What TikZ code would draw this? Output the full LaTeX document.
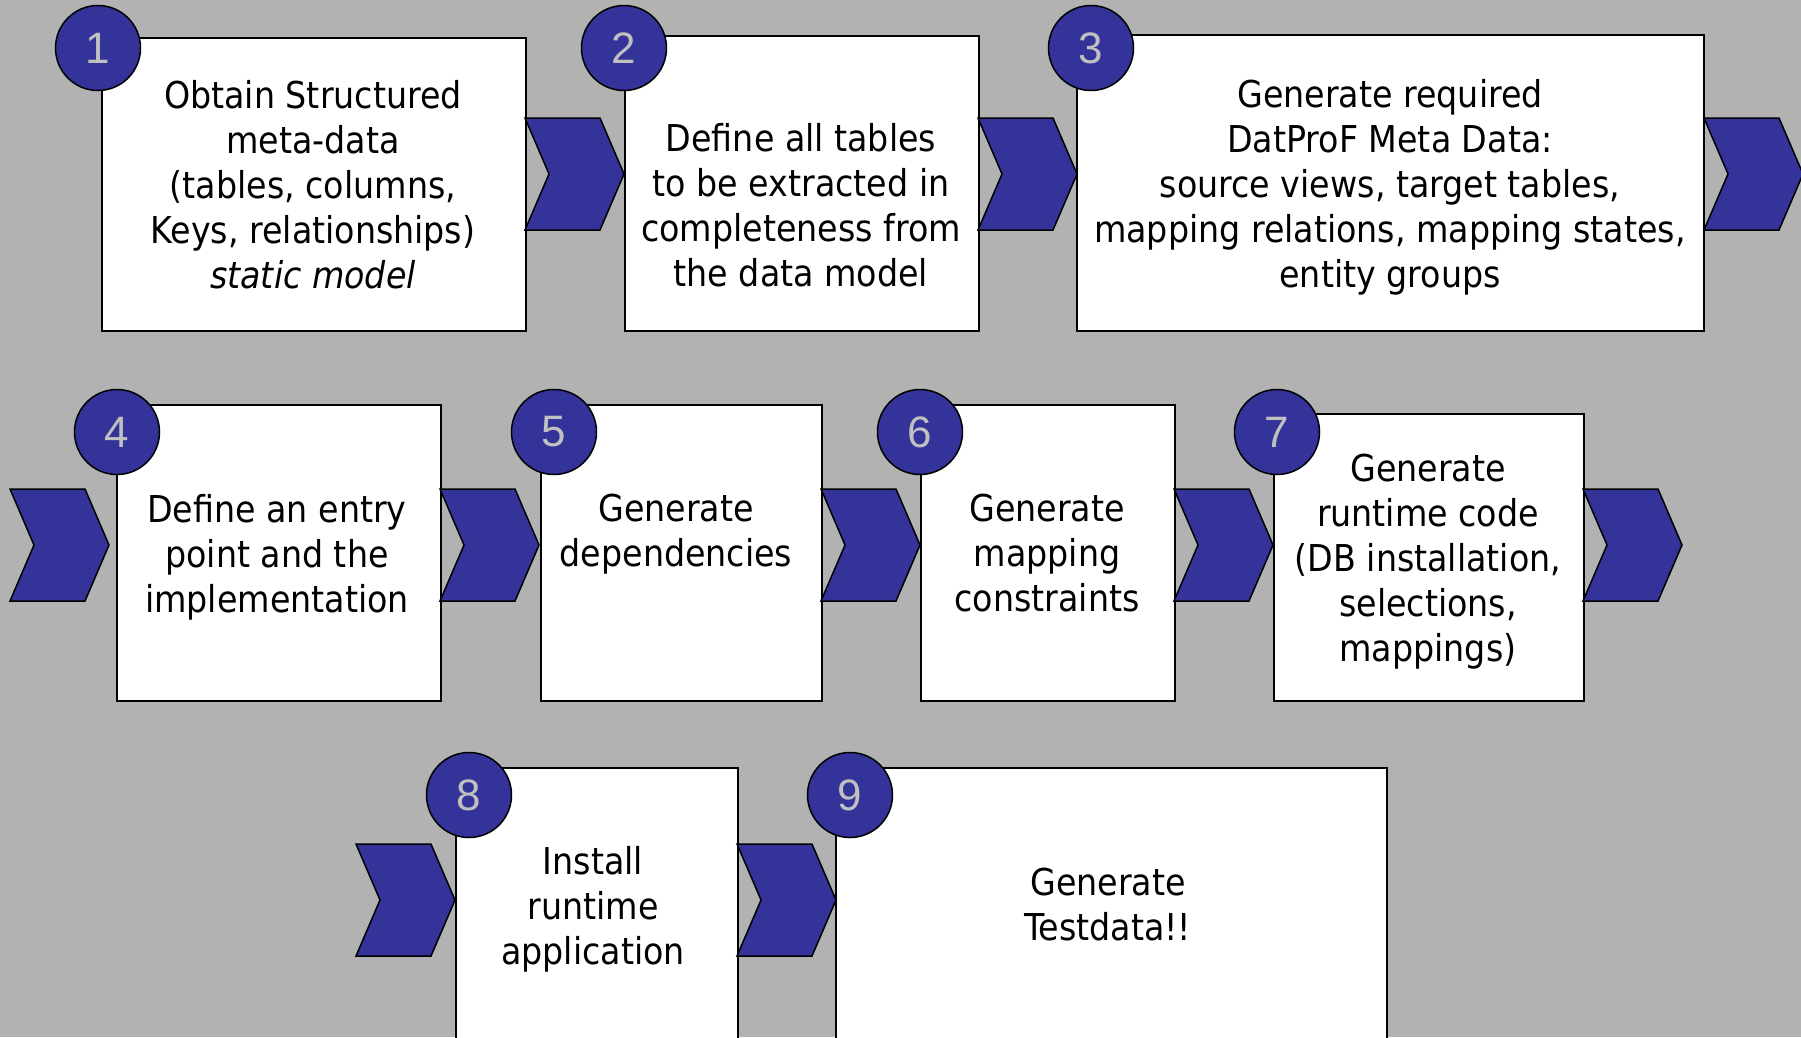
\documentclass[tikz,border=0pt]{standalone}
\usepackage{fontspec}
\setmainfont{DejaVu Sans Condensed}
\newfontfamily\numfont{Liberation Sans}
\definecolor{bg}{HTML}{B2B2B2}
\definecolor{navy}{HTML}{333399}
\definecolor{numgray}{HTML}{C0C0C0}
\tikzset{
 box/.style={draw=black, line width=2pt, fill=white, rectangle, inner sep=0pt, anchor=north west},
 txt/.style={align=center, font=\fontsize{37}{45}\selectfont, inner sep=0pt},
 numc/.style={circle, draw=black, line width=1.5pt, fill=navy, minimum size=85pt, inner sep=0pt, text=numgray, font=\numfont\fontsize{44}{44}\selectfont},
 chev/.style={fill=navy, draw=black, line width=1.5pt, line join=miter}
}
\newcommand{\chevron}[3]{%
 \draw[chev] (#2,#3) -- ++(75,0) -- ++(24,56) -- ++(-24,56) -- ++(-75,0) -- ++(24,-56) -- cycle;
 \coordinate (#1) at (#2+49,#3+56);
}
\begin{document}
\begin{tikzpicture}[x=1pt,y=-1pt]
\useasboundingbox (0,0) rectangle (1801,1037);
\clip (0,0) rectangle (1801,1037);
\fill[bg] (0,0) rectangle (1801,1037);
% boxes
\node[box, minimum width=424, minimum height=293] (b1) at (101,37) {};
\node[box, minimum width=354, minimum height=295] (b2) at (624,35) {};
\node[box, minimum width=627, minimum height=296] (b3) at (1076,34) {};
\node[box, minimum width=324, minimum height=296] (b4) at (116,404) {};
\node[box, minimum width=281, minimum height=296] (b5) at (540,404) {};
\node[box, minimum width=254, minimum height=296] (b6) at (920,404) {};
\node[box, minimum width=310, minimum height=287] (b7) at (1273,413) {};
\node[box, minimum width=282, minimum height=290] (b8) at (455,767) {};
\node[box, minimum width=551, minimum height=290] (b9) at (835,767) {};
% chevrons
\chevron{k1}{525}{118}
\chevron{k2}{978}{118}
\chevron{k3}{1704}{118}
\chevron{k4}{10}{489}
\chevron{k5}{440}{489}
\chevron{k6}{821}{489}
\chevron{k7}{1174}{489}
\chevron{k8}{1583}{489}
\chevron{k9}{356}{844}
\chevron{k10}{737}{844}
% texts
\node[txt] (t1) at (313,185) {Obtain Structured\\meta-data\\(tables, columns,\\Keys, relationships)\\\textit{static model}};
\node[txt] (t2) at (801,205) {Define all tables\\to be extracted in\\completeness from\\the data model};
\node[txt] (t3) at (1390,187) {Generate required\\DatProF Meta Data:\\source views, target tables,\\mapping relations, mapping states,\\entity groups};
\node[txt] (t4) at (277,557) {Define an entry\\point and the\\implementation};
\node[txt] (t5) at (676,534) {Generate\\dependencies};
\node[txt] (t6) at (1047,553) {Generate\\mapping\\constraints};
\node[txt] (t7) at (1428,562) {Generate\\runtime code\\(DB installation,\\selections,\\mappings)};
\node[txt] (t8) at (593,909) {Install\\runtime\\application};
\node[txt] (t9) at (1108,905) {Generate\\Testdata!!};
% circles
\node[numc] (c1) at (98,48) {1};
\node[numc] (c2) at (624,48) {2};
\node[numc] (c3) at (1091,48) {3};
\node[numc] (c4) at (117,432) {4};
\node[numc] (c5) at (554,432) {5};
\node[numc] (c6) at (920,432) {6};
\node[numc] (c7) at (1277,432) {7};
\node[numc] (c8) at (469,795) {8};
\node[numc] (c9) at (850,795) {9};
\end{tikzpicture}
\end{document}
